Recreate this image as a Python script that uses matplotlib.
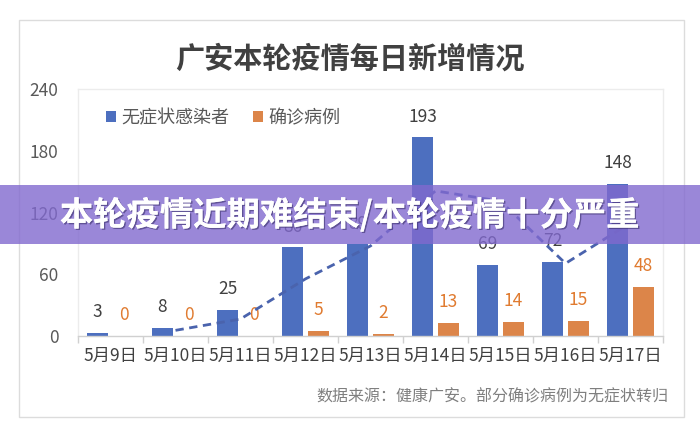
import matplotlib
matplotlib.use("Agg")
import matplotlib.pyplot as plt
import matplotlib.patheffects as pe
from matplotlib.patches import Rectangle
import numpy as np

plt.rcParams['font.family'] = ['Noto Sans CJK SC', 'DejaVu Sans']

categories = ['5月9日', '5月10日', '5月11日', '5月12日', '5月13日',
              '5月14日', '5月15日', '5月16日', '5月17日']
asymptomatic = [3, 8, 25, 86, 89, 193, 69, 72, 148]
confirmed = [0, 0, 0, 5, 2, 13, 14, 15, 48]
series_names = ['无症状感染者', '确诊病例']
yticks = [0, 60, 120, 180, 240]
title = '广安本轮疫情每日新增情况'
source = '数据来源：健康广安。部分确诊病例为无症状转归'
banner = '本轮疫情近期难结束/本轮疫情十分严重'

W, H = 700, 428
fig = plt.figure(figsize=(W / 100, H / 100), dpi=100)
fig.patch.set_facecolor('white')

# card
fig.patches.append(Rectangle((19 / W, (H - 417) / H), (684 - 19) / W, (417 - 20) / H,
                             transform=fig.transFigure, facecolor='white',
                             edgecolor='#dcdcdc', linewidth=1.0, zorder=-5))

ax = fig.add_axes([78 / W, (H - 336) / H, (663 - 78) / W, (336 - 89) / H])
ax.set_facecolor('none')

x = np.arange(len(categories))
bw = 0.31
off = 0.2
blue = '#4d6fbf'
orange = '#dc8549'
b1 = ax.bar(x - off, asymptomatic, width=bw, color=blue, label=series_names[0], zorder=2)
b2 = ax.bar(x + off, confirmed, width=bw, color=orange, label=series_names[1], zorder=2)

for xi, v in zip(x, asymptomatic):
    ax.annotate(str(v), (xi - off, v), xytext=(0, 15), textcoords='offset points',
                ha='center', va='center', fontsize=12.5, color='#404040')
for xi, v in zip(x, confirmed):
    ax.annotate(str(v), (xi + off, v), xytext=(0, 15), textcoords='offset points',
                ha='center', va='center', fontsize=12.5, color='#e07b30')

# 2-period moving average trendline
ma = np.convolve(asymptomatic, [0.5, 0.5], mode='valid')
ax.plot(x[1:], ma, linestyle=(0, (3, 2)), color='#4a63ad', linewidth=2.0, zorder=3)

ax.set_xlim(-0.5, len(categories) - 0.5)
ax.set_ylim(0, 240)
ax.set_yticks(yticks)
ax.set_yticklabels([str(t) for t in yticks], fontsize=12.5, color='#595959')
ax.tick_params(axis='y', length=0, pad=14)
ax.set_xticks(x)
ax.set_xticklabels(categories, fontsize=12.5, color='#404040')
ax.tick_params(axis='x', which='major', length=0, pad=8)
ax.set_xticks(np.arange(-0.5, len(categories), 1.0), minor=True)
ax.tick_params(axis='x', which='minor', length=5, color='#d0d0d0', width=1)

for s in ['top', 'left', 'right']:
    ax.spines[s].set_color('#ececec')
    ax.spines[s].set_linewidth(1.0)
ax.spines['bottom'].set_color('#d0d0d0')
ax.spines['bottom'].set_linewidth(1.0)

leg = ax.legend(handles=[b1, b2], loc='upper left', bbox_to_anchor=(0.02, 0.985),
                ncol=2, frameon=False, fontsize=13, handlelength=0.55, handleheight=0.55,
                handletextpad=0.3, columnspacing=1.3, labelcolor='#595959')

fig.text(350 / W, 1 - 59 / H, title, ha='center', va='center', fontsize=21,
         fontweight='bold', color='#404040')
fig.text(668 / W, 1 - 397 / H, source, ha='right', va='center', fontsize=11.5,
         color='#7f7f7f')

# banner
fig.patches.append(Rectangle((0, (H - 244) / H), 1, (244 - 185) / H,
                             transform=fig.transFigure, facecolor='#8169cf',
                             alpha=0.8, edgecolor='none', zorder=10))
t = fig.text(350 / W, 1 - 215 / H, banner, ha='center', va='center', fontsize=24,
             fontweight='bold', color='white', zorder=11)
t.set_path_effects([pe.withSimplePatchShadow(offset=(1, -1), shadow_rgbFace='#3a2f6b', alpha=0.6),
                    pe.Normal()])

fig.savefig('out.png', dpi=100)
